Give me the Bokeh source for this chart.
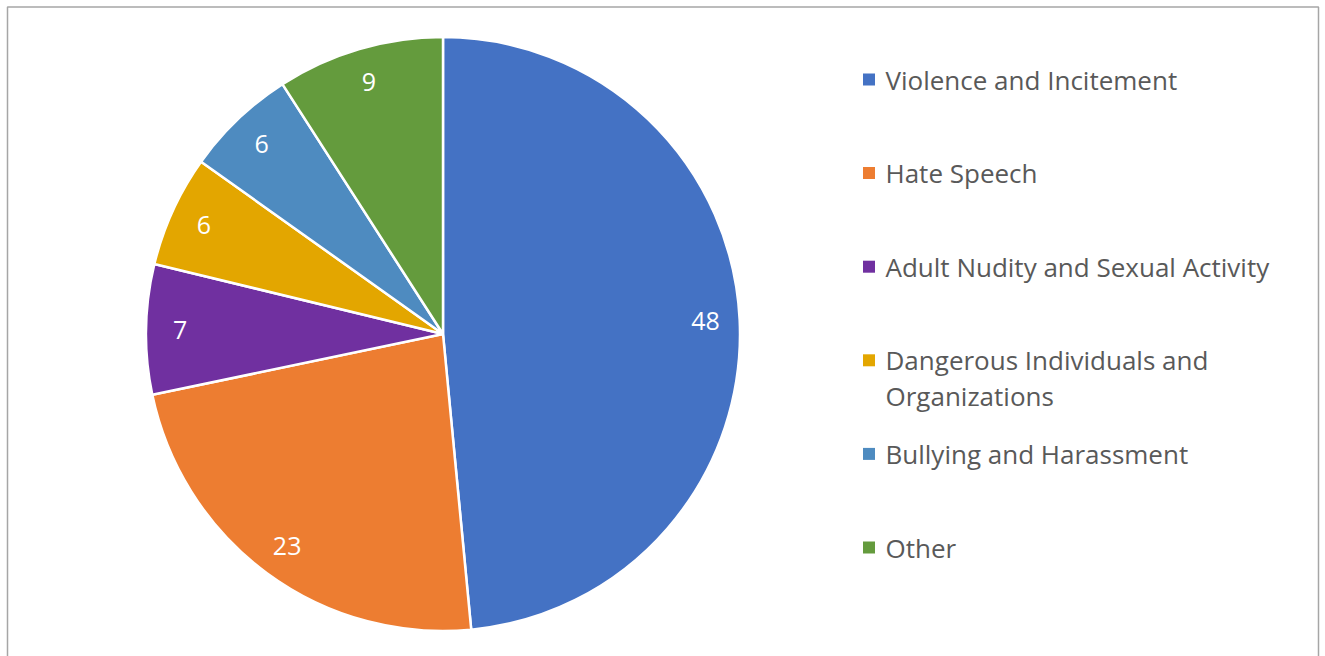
import math
import textwrap
from bokeh.plotting import figure
from bokeh.models import Range1d, ColumnDataSource
from bokeh.core.properties import value
from bokeh.embed import file_html
from bokeh.resources import INLINE

# ---- data ----
categories = [
    "Violence and Incitement",
    "Hate Speech",
    "Adult Nudity and Sexual Activity",
    "Dangerous Individuals and Organizations",
    "Bullying and Harassment",
    "Other",
]
values = [48, 23, 7, 6, 6, 9]
colors = ["#4472C4", "#ED7D31", "#7030A0", "#E3A600", "#4E8BC0", "#649B3D"]

W, H = 1320, 656
FONT = "Open Sans"

p = figure(width=W, height=H, output_backend="svg", toolbar_location=None,
           x_range=Range1d(0, W), y_range=Range1d(0, H), min_border=0)
p.axis.visible = False
p.grid.visible = False
p.outline_line_color = None
p.background_fill_color = "white"
p.border_fill_color = "white"

def px(x):
    return x

def py(y):
    return H - y

# border
p.line([px(7), px(7), px(1318), px(1318)], [py(700), py(6.5), py(6.5), py(700)],
       line_color="#a6a6a6", line_width=1.5)

# ---- pie ----
cx, cy, R = px(442.5), py(333.5), 297
total = sum(values)
starts, ends, lx, ly, txt = [], [], [], [], []
cum = 0
for v in values:
    a0 = math.pi / 2 - 2 * math.pi * cum / total
    cum += v
    a1 = math.pi / 2 - 2 * math.pi * cum / total
    starts.append(a0)
    ends.append(a1)
    mid = (a0 + a1) / 2
    lx.append(cx + 0.885 * R * math.cos(mid))
    ly.append(cy + 0.885 * R * math.sin(mid))
    txt.append(str(v))

src = ColumnDataSource(dict(start=starts, end=ends, color=colors))
p.wedge(x=cx, y=cy, radius=R, start_angle="start", end_angle="end",
        direction="clock", fill_color="color", line_color="white", line_width=2.5,
        source=src)
p.text(x=lx, y=ly, text=txt, text_color="white", text_font=value(FONT),
       text_font_size="25px", text_align="center", text_baseline="middle")

# ---- legend ----
sq_x, sq_y, tx, ty, tt = [], [], [], [], []
for i, c in enumerate(categories):
    y0 = 79 + i * 93.6
    sq_x.append(px(868.5))
    sq_y.append(py(y0))
    for j, line in enumerate(textwrap.wrap(c, 32)):
        tx.append(px(885))
        ty.append(py(y0 + j * 36))
        tt.append(line)

p.rect(x=sq_x, y=sq_y, width=12, height=12, fill_color=colors, line_color=None)
p.text(x=tx, y=ty, text=tt, text_color="#595959", text_font=value(FONT),
       text_font_size="26px", text_align="left", text_baseline="middle")

open("out.html", "w").write(file_html(p, INLINE))
